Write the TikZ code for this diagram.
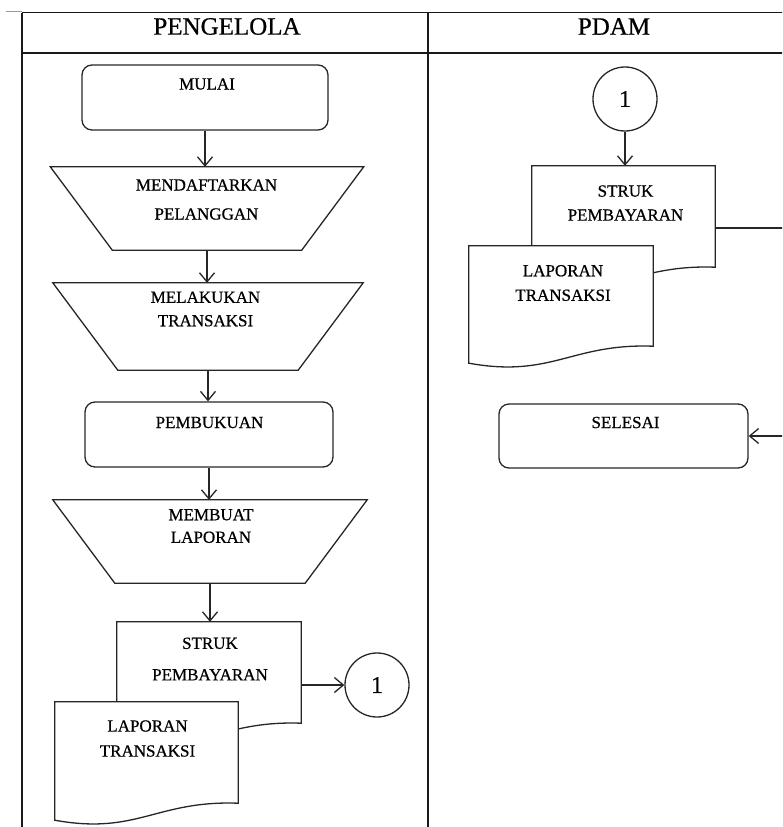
\documentclass[tikz,border=0pt]{standalone}
\usepackage{fontspec}
\setmainfont{Liberation Serif}
\newfontfamily\heavyserif[FakeBold=0.6]{Liberation Serif}
\usetikzlibrary{arrows.meta,calc}
\newcommand\docoutline[1]{%
  \draw[shp, fill=white] (#1.north west) -- (#1.north east) -- (#1.south east)
    .. controls ($(#1.south east)+(-82,-3)$) and ($(#1.south east)+(-101,32)$) ..
    ($(#1.south west)+(0,17)$) -- cycle;}
\newcommand\trapoutline[2]{%
  \draw[shp] (#1.north west) -- (#1.north east) -- ($(#1.south east)+(-#2,0)$)
    -- ($(#1.south west)+(#2,0)$) -- cycle;}
\begin{document}
\begin{tikzpicture}[x=1pt,y=-1pt,
  shp/.style={draw=black!85, line width=1.3pt},
  tbl/.style={draw=black!90, line width=1.6pt},
  arr/.style={draw=black!85, line width=1.3pt, -{Straight Barb[length=9pt,width=15pt,line width=1.3pt]}},
  lbl/.style={inner sep=0pt, align=center},
  hdr/.style={font=\heavyserif\fontsize{25}{30}\selectfont, inner sep=0pt},
  rbox/.style={shp, rounded corners=10pt, inner sep=0pt},
  frame/.style={inner sep=0pt, draw=none},
  conn/.style={shp, circle, minimum size=64pt, inner sep=0pt, font=\heavyserif\fontsize{24}{26}\selectfont}
]
\useasboundingbox (0,0) rectangle (782,827);
\clip (0,0) rectangle (782,827);
% table
\draw[black!40, line width=0.8pt] (6,11) -- (22,11);
\draw[tbl] (22,12.5) -- (800,12.5);
\draw[tbl] (22,53) -- (800,53);
\draw[tbl] (22,12.5) -- (22,830);
\draw[tbl] (428,12.5) -- (428,830);
\node[hdr] (hA) at (227,26.5) {PENGELOLA};
\node[hdr] (hB) at (614,26.5) {PDAM};
% shapes
\node[rbox, minimum width=246pt, minimum height=65pt] (mulai) at (205,97.5) {};
\node[frame, minimum width=313pt, minimum height=83pt] (tr1) at (207,208.5) {};
\node[frame, minimum width=310pt, minimum height=87pt] (tr2) at (208,326.5) {};
\node[rbox, minimum width=248pt, minimum height=65pt] (bukuan) at (209,434.5) {};
\node[frame, minimum width=314pt, minimum height=83pt] (tr3) at (210,541.5) {};
\trapoutline{tr1}{62}
\trapoutline{tr2}{65}
\trapoutline{tr3}{62}
\node[frame, minimum width=184pt, minimum height=101pt] (struk1) at (209,672.5) {};
\node[frame, minimum width=183pt, minimum height=101pt] (lap1) at (146.5,752.5) {};
\node[conn] (c1) at (377,685) {1};
\node[conn] (c2) at (625,99) {1};
\node[frame, minimum width=183pt, minimum height=101pt] (struk2) at (623.5,216.5) {};
\node[frame, minimum width=184pt, minimum height=100pt] (lap2) at (561,296) {};
\node[rbox, minimum width=249pt, minimum height=64pt] (selesai) at (623.5,436) {};
\docoutline{struk1}
\docoutline{lap1}
\docoutline{struk2}
\docoutline{lap2}
% texts
\tikzset{lbl/.append style={font=\heavyserif\fontsize{17}{20}\selectfont}}
\node[lbl] (t1) at (207,84) {MULAI};
\node[lbl, font=\heavyserif\fontsize{17}{29}\selectfont] (t2) at (206.5,199.5) {MENDAFTARKAN\\PELANGGAN};
\node[lbl, font=\heavyserif\fontsize{17}{23.5}\selectfont] (t3) at (205.5,309) {MELAKUKAN\\TRANSAKSI};
\node[lbl] (t4) at (209.5,422.5) {PEMBUKUAN};
\node[lbl, font=\heavyserif\fontsize{17}{22.5}\selectfont] (t5) at (211,526) {MEMBUAT\\LAPORAN};
\node[lbl, font=\heavyserif\fontsize{17}{31.5}\selectfont] (t6) at (210,659) {STRUK\\PEMBAYARAN};
\node[lbl, font=\heavyserif\fontsize{17}{25}\selectfont] (t7) at (147.5,738.5) {LAPORAN\\TRANSAKSI};
\node[lbl, font=\heavyserif\fontsize{17}{24}\selectfont] (t8) at (625.5,203) {STRUK\\PEMBAYARAN};
\node[lbl, font=\heavyserif\fontsize{17}{24.5}\selectfont] (t9) at (563,283) {LAPORAN\\TRANSAKSI};
\node[lbl] (t10) at (625.5,422.5) {SELESAI};
% connectors
\draw[arr] (mulai.south) -- (mulai.south |- tr1.north);
\draw[arr] (tr1.south) -- (tr1.south |- tr2.north);
\draw[arr] (tr2.south) -- (tr2.south |- bukuan.north);
\draw[arr] (bukuan.south) -- (bukuan.south |- tr3.north);
\draw[arr] (tr3.south) -- (tr3.south |- struk1.north);
\draw[arr] (c1.west -| struk1.east) -- (c1.west);
\draw[arr] (c2.south) -- (c2.south |- struk2.north);
\coordinate (far) at (800,228);
\draw[arr] (struk2.east |- far) -- (far) -- (far |- selesai.east) -- (selesai.east);
\end{tikzpicture}
\end{document}
